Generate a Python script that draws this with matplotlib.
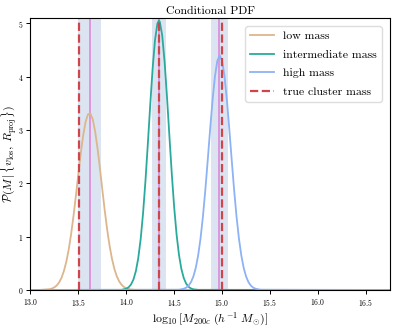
import matplotlib.pyplot as plt
import numpy as np

plt.rcParams['font.family'] = 'serif'
plt.rcParams['font.serif'] = ['cmr10', 'DejaVu Serif']
plt.rcParams['mathtext.fontset'] = 'cm'
plt.rcParams['axes.formatter.use_mathtext'] = True

# conditional pdfs
x_low = [13.0, 13.1, 13.2, 13.225, 13.25, 13.275, 13.3, 13.325, 13.35, 13.375, 13.4, 13.425,
         13.45, 13.475, 13.5, 13.525, 13.55, 13.575, 13.6, 13.625, 13.65, 13.675, 13.7,
         13.725, 13.75, 13.775, 13.8, 13.825, 13.85, 13.875, 13.9, 13.925, 13.95, 13.975,
         14.0, 14.025, 14.05, 14.1, 16.75]
p_low = [0.0, 0.001, 0.014, 0.027, 0.049, 0.085, 0.143, 0.231, 0.358, 0.533, 0.764, 1.052,
         1.394, 1.775, 2.173, 2.558, 2.894, 3.149, 3.293, 3.312, 3.201, 2.975, 2.658,
         2.284, 1.886, 1.497, 1.143, 0.839, 0.592, 0.401, 0.262, 0.164, 0.099, 0.057,
         0.032, 0.017, 0.008, 0.002, 0.0]

x_mid = [13.0, 13.95, 14.0, 14.025, 14.05, 14.075, 14.1, 14.125, 14.15, 14.175, 14.2, 14.225,
         14.25, 14.275, 14.3, 14.325, 14.34, 14.35, 14.375, 14.4, 14.425, 14.45, 14.475,
         14.5, 14.525, 14.55, 14.575, 14.6, 14.625, 14.65, 14.675, 14.7, 14.75, 16.75]
p_mid = [0.0, 0.002, 0.024, 0.051, 0.104, 0.197, 0.352, 0.596, 0.951, 1.434, 2.041, 2.740,
         3.472, 4.154, 4.690, 4.998, 5.05, 5.027, 4.772, 4.276, 3.616, 2.887, 2.175,
         1.547, 1.038, 0.658, 0.393, 0.222, 0.118, 0.059, 0.028, 0.012, 0.002, 0.0]

x_high = [13.0, 14.55, 14.6, 14.625, 14.65, 14.675, 14.7, 14.725, 14.75, 14.775, 14.8, 14.825,
          14.85, 14.875, 14.9, 14.925, 14.95, 14.975, 15.0, 15.025, 15.05, 15.075, 15.1,
          15.125, 15.15, 15.175, 15.2, 15.225, 15.25, 15.275, 15.3, 15.325, 15.35, 15.4, 16.75]
p_high = [0.0, 0.004, 0.022, 0.043, 0.081, 0.146, 0.252, 0.414, 0.649, 0.970, 1.382, 1.879,
          2.438, 3.015, 3.557, 4.003, 4.297, 4.400, 4.297, 4.003, 3.557, 3.015, 2.438,
          1.879, 1.382, 0.970, 0.649, 0.414, 0.252, 0.146, 0.081, 0.043, 0.022, 0.004, 0.0]

true_mass = [13.51, 14.34, 15.0]
median_mass = [13.62, 14.34, 14.97]
band_lo = [13.495, 14.264, 14.88]
band_hi = [13.733, 14.414, 15.06]

labels = ['low mass', 'intermediate mass', 'high mass']
colors = ['#dcb68c', '#2aaa9c', '#8db2f5']

fig, ax = plt.subplots(figsize=(3.95, 3.28), dpi=100)

for i in range(3):
    ax.axvspan(band_lo[i], band_hi[i], color='#b0c4de', alpha=0.45, lw=0)
    ax.axvline(median_mass[i], color='#dd90dd', lw=1.3)

ax.plot(x_low, p_low, color=colors[0], lw=1.3, label=labels[0])
ax.plot(x_mid, p_mid, color=colors[1], lw=1.3, label=labels[1])
ax.plot(x_high, p_high, color=colors[2], lw=1.3, label=labels[2])

for i in range(3):
    ax.axvline(true_mass[i], color='#d0444c', lw=1.6, ls='--',
               label='true cluster mass' if i == 0 else None)

ax.set_xlim(13.0, 16.75)
ax.set_ylim(0, 5.1)
ax.set_xticks([13.0, 13.5, 14.0, 14.5, 15.0, 15.5, 16.0, 16.5])
ax.set_yticks([0, 1, 2, 3, 4, 5])
ax.tick_params(labelsize=5.5, length=3, width=0.7, pad=2)

ax.set_title('Conditional PDF', fontsize=8.5, pad=3)
ax.set_xlabel(r'$\log_{10}[M_{200c}\ (h^{-1}\ M_{\odot})]$', fontsize=8.5, labelpad=2)
ax.set_ylabel(r'$\mathcal{P}(M\,|\,\{v_{\rm los},\,R_{\rm proj}\})$', fontsize=8.5)
ax.yaxis.set_label_coords(-0.032, 0.5)

ax.legend(loc='upper right', fontsize=8.5, framealpha=1, edgecolor='#dddddd',
          borderaxespad=0.7, labelspacing=0.7)

plt.subplots_adjust(left=0.077, right=0.987, bottom=0.116, top=0.945)
plt.savefig('out.png', dpi=100)
